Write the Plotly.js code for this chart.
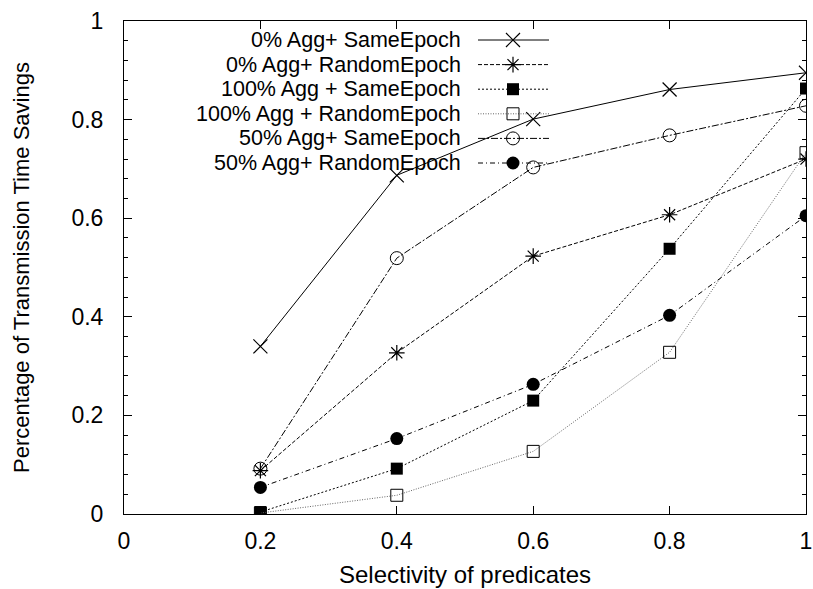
<!DOCTYPE html>
<html>
<head>
<meta charset="utf-8">
<script src="https://cdn.plot.ly/plotly-3.0.1.min.js"></script>
<style>html,body{margin:0;padding:0;background:#fff;}#chart{width:813px;height:589px;}</style>
</head>
<body>
<div id="chart"></div>
<script>
// Data
const selectivity = [0.2, 0.4, 0.6, 0.8, 1.0];
const seriesNames = [
  "0% Agg+ SameEpoch",
  "0% Agg+ RandomEpoch",
  "100% Agg + SameEpoch",
  "100% Agg + RandomEpoch",
  "50% Agg+ SameEpoch",
  "50% Agg+ RandomEpoch"
];
const agg0Same    = [0.340, 0.687, 0.801, 0.861, 0.895];
const agg0Random  = [0.088, 0.327, 0.523, 0.607, 0.720];
const agg100Same  = [0.004, 0.092, 0.230, 0.538, 0.863];
const agg100Random= [0.002, 0.038, 0.127, 0.328, 0.733];
const agg50Same   = [0.092, 0.519, 0.703, 0.768, 0.828];
const agg50Random = [0.054, 0.153, 0.263, 0.403, 0.605];
const xTicks = [0, 0.2, 0.4, 0.6, 0.8, 1];
const yTicks = [0, 0.2, 0.4, 0.6, 0.8, 1];

const allSeries = [agg0Same, agg0Random, agg100Same, agg100Random, agg50Same, agg50Random];

// Styles
const styles = [
  {dash: "solid", color: "#000", width: 1, symbol: "x-thin-open", size: 14, mlw: 1.2},
  {dash: "4px,2px", color: "#000", width: 1, symbol: "asterisk-open", size: 13, mlw: 1.2},
  {dash: "2px,2px", color: "#000", width: 1, symbol: "square", size: 12, mlw: 0},
  {dash: "1px,1.5px", color: "#666", width: 1, symbol: "square-open", size: 12, mlw: 1},
  {dash: "7px,2px,2px,2px", color: "#000", width: 1, symbol: "circle-open", size: 13, mlw: 1},
  {dash: "5px,3px,1px,3px", color: "#000", width: 1, symbol: "circle", size: 13, mlw: 0}
];

const font = "Liberation Sans, Arial, sans-serif";
const traces = allSeries.map((ys, i) => ({
  x: selectivity, y: ys, type: "scatter", mode: "lines+markers",
  name: seriesNames[i], showlegend: false,
  line: {color: styles[i].color, width: styles[i].width, dash: styles[i].dash},
  marker: {symbol: styles[i].symbol, size: styles[i].size, color: "#000",
           line: {color: "#000", width: styles[i].mlw}}
}));

// Hand-built legend (gnuplot style: text right, sample on the right) on an overlay axis in pixel space
const leg = {textRight: 462, lineX0: 478, lineX1: 549, markX: 513, rowY0: 40, rowStep: 24.6};
const annotations = [];
seriesNames.forEach((nm, i) => {
  const ry = leg.rowY0 + i * leg.rowStep;
  traces.push({
    x: [leg.lineX0, leg.lineX1], y: [ry, ry], xaxis: "x2", yaxis: "y2",
    type: "scatter", mode: "lines", showlegend: false, hoverinfo: "skip",
    line: {color: styles[i].color, width: styles[i].width, dash: styles[i].dash}
  });
  traces.push({
    x: [leg.markX], y: [ry], xaxis: "x2", yaxis: "y2",
    type: "scatter", mode: "markers", showlegend: false, hoverinfo: "skip",
    marker: {symbol: styles[i].symbol, size: styles[i].size, color: "#000",
             line: {color: "#000", width: styles[i].mlw}}
  });
  annotations.push({
    x: leg.textRight, y: ry, xref: "x2", yref: "y2", text: nm, showarrow: false,
    xanchor: "right", yanchor: "middle", borderpad: 0,
    font: {family: font, size: 21.5, color: "#000"}
  });
});

const layout = {
  width: 813, height: 589,
  margin: {l: 124, r: 7, t: 21, b: 75},
  paper_bgcolor: "#fff", plot_bgcolor: "#fff",
  font: {family: font, size: 20, color: "#000"},
  xaxis: {
    range: [0, 1], tickvals: xTicks, ticktext: xTicks.map(String),
    ticks: "inside", ticklen: 8, tickcolor: "#000", showline: true, linecolor: "#000", linewidth: 1,
    mirror: "ticks", showgrid: false, zeroline: false, ticklabelstandoff: 6,
    tickfont: {family: font, size: 23},
    title: {text: "Selectivity of predicates", font: {family: font, size: 24}, standoff: 13}
  },
  yaxis: {
    range: [0, 1], tickvals: yTicks, ticktext: yTicks.map(String),
    ticks: "inside", ticklen: 8, tickcolor: "#000", showline: true, linecolor: "#000", linewidth: 1,
    mirror: "ticks", showgrid: false, zeroline: false, ticklabelstandoff: 15,
    minor: {dtick: 0.04, ticks: "inside", ticklen: 4, tickcolor: "#000", showgrid: false},
    tickfont: {family: font, size: 23},
    title: {text: "Percentage of Transmission Time Savings", font: {family: font, size: 22}, standoff: 35}
  },
  xaxis2: {overlaying: "x", range: [124, 806], visible: false, fixedrange: true},
  yaxis2: {overlaying: "y", range: [514, 21], visible: false, fixedrange: true},
  annotations: annotations,
  showlegend: false
};

Plotly.newPlot("chart", traces, layout, {displayModeBar: false, staticPlot: true});
</script>
</body>
</html>
